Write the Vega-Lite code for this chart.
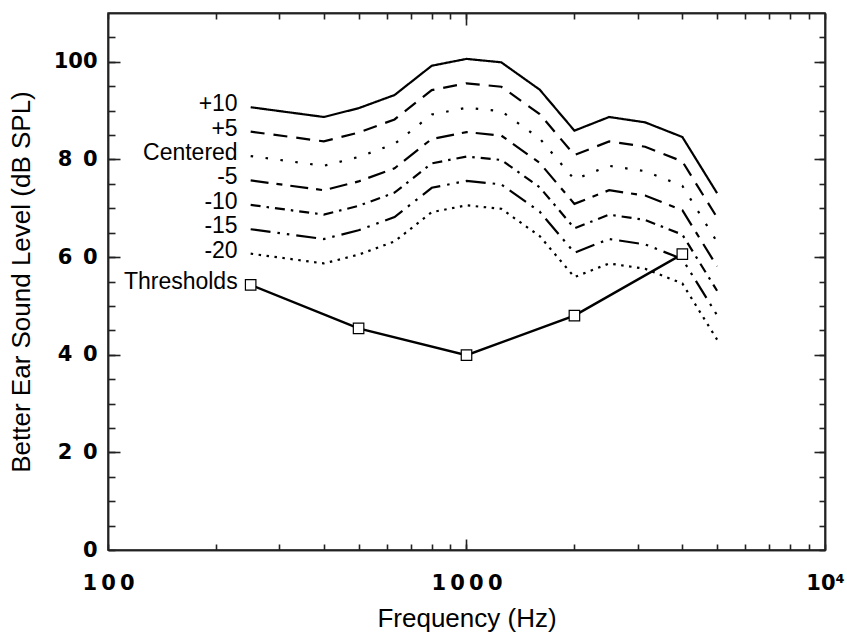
{
  "$schema": "https://vega.github.io/schema/vega-lite/v6.json",
  "width": 717,
  "height": 537,
  "autosize": "none",
  "padding": {"left": 108, "top": 13, "right": 22, "bottom": 82},
  "config": {
    "view": {"stroke": "#222", "strokeWidth": 1.5},
    "axis": {"grid": false, "labelColor": "#000", "titleColor": "#000"}
  },
  "data": {
    "values": [
      {"s": "+10", "f": 250, "v": 90.7}, {"s": "+10", "f": 400, "v": 88.7}, {"s": "+10", "f": 500, "v": 90.5}, {"s": "+10", "f": 630, "v": 93.2}, {"s": "+10", "f": 800, "v": 99.2}, {"s": "+10", "f": 1000, "v": 100.6}, {"s": "+10", "f": 1250, "v": 99.9}, {"s": "+10", "f": 1600, "v": 94.3}, {"s": "+10", "f": 2000, "v": 85.9}, {"s": "+10", "f": 2500, "v": 88.7}, {"s": "+10", "f": 3150, "v": 87.6}, {"s": "+10", "f": 4000, "v": 84.6}, {"s": "+10", "f": 5000, "v": 73.1},
      {"s": "+5", "f": 250, "v": 85.7}, {"s": "+5", "f": 400, "v": 83.7}, {"s": "+5", "f": 500, "v": 85.5}, {"s": "+5", "f": 630, "v": 88.2}, {"s": "+5", "f": 800, "v": 94.2}, {"s": "+5", "f": 1000, "v": 95.6}, {"s": "+5", "f": 1250, "v": 94.9}, {"s": "+5", "f": 1600, "v": 89.3}, {"s": "+5", "f": 2000, "v": 80.9}, {"s": "+5", "f": 2500, "v": 83.7}, {"s": "+5", "f": 3150, "v": 82.6}, {"s": "+5", "f": 4000, "v": 79.6}, {"s": "+5", "f": 5000, "v": 68.1},
      {"s": "Centered", "f": 250, "v": 80.7}, {"s": "Centered", "f": 400, "v": 78.7}, {"s": "Centered", "f": 500, "v": 80.5}, {"s": "Centered", "f": 630, "v": 83.2}, {"s": "Centered", "f": 800, "v": 89.2}, {"s": "Centered", "f": 1000, "v": 90.6}, {"s": "Centered", "f": 1250, "v": 89.9}, {"s": "Centered", "f": 1600, "v": 84.3}, {"s": "Centered", "f": 2000, "v": 75.9}, {"s": "Centered", "f": 2500, "v": 78.7}, {"s": "Centered", "f": 3150, "v": 77.6}, {"s": "Centered", "f": 4000, "v": 74.6}, {"s": "Centered", "f": 5000, "v": 63.1},
      {"s": "-5", "f": 250, "v": 75.7}, {"s": "-5", "f": 400, "v": 73.7}, {"s": "-5", "f": 500, "v": 75.5}, {"s": "-5", "f": 630, "v": 78.2}, {"s": "-5", "f": 800, "v": 84.2}, {"s": "-5", "f": 1000, "v": 85.6}, {"s": "-5", "f": 1250, "v": 84.9}, {"s": "-5", "f": 1600, "v": 79.3}, {"s": "-5", "f": 2000, "v": 70.9}, {"s": "-5", "f": 2500, "v": 73.7}, {"s": "-5", "f": 3150, "v": 72.6}, {"s": "-5", "f": 4000, "v": 69.6}, {"s": "-5", "f": 5000, "v": 58.1},
      {"s": "-10", "f": 250, "v": 70.7}, {"s": "-10", "f": 400, "v": 68.7}, {"s": "-10", "f": 500, "v": 70.5}, {"s": "-10", "f": 630, "v": 73.2}, {"s": "-10", "f": 800, "v": 79.2}, {"s": "-10", "f": 1000, "v": 80.6}, {"s": "-10", "f": 1250, "v": 79.9}, {"s": "-10", "f": 1600, "v": 74.3}, {"s": "-10", "f": 2000, "v": 65.9}, {"s": "-10", "f": 2500, "v": 68.7}, {"s": "-10", "f": 3150, "v": 67.6}, {"s": "-10", "f": 4000, "v": 64.6}, {"s": "-10", "f": 5000, "v": 53.1},
      {"s": "-15", "f": 250, "v": 65.7}, {"s": "-15", "f": 400, "v": 63.7}, {"s": "-15", "f": 500, "v": 65.5}, {"s": "-15", "f": 630, "v": 68.2}, {"s": "-15", "f": 800, "v": 74.2}, {"s": "-15", "f": 1000, "v": 75.6}, {"s": "-15", "f": 1250, "v": 74.9}, {"s": "-15", "f": 1600, "v": 69.3}, {"s": "-15", "f": 2000, "v": 60.9}, {"s": "-15", "f": 2500, "v": 63.7}, {"s": "-15", "f": 3150, "v": 62.6}, {"s": "-15", "f": 4000, "v": 59.6}, {"s": "-15", "f": 5000, "v": 48.1},
      {"s": "-20", "f": 250, "v": 60.7}, {"s": "-20", "f": 400, "v": 58.7}, {"s": "-20", "f": 500, "v": 60.5}, {"s": "-20", "f": 630, "v": 63.2}, {"s": "-20", "f": 800, "v": 69.2}, {"s": "-20", "f": 1000, "v": 70.6}, {"s": "-20", "f": 1250, "v": 69.9}, {"s": "-20", "f": 1600, "v": 64.3}, {"s": "-20", "f": 2000, "v": 55.9}, {"s": "-20", "f": 2500, "v": 58.7}, {"s": "-20", "f": 3150, "v": 57.6}, {"s": "-20", "f": 4000, "v": 54.6}, {"s": "-20", "f": 5000, "v": 43.1},
      {"s": "Thresholds", "f": 250, "v": 54.3}, {"s": "Thresholds", "f": 500, "v": 45.4}, {"s": "Thresholds", "f": 1000, "v": 39.9}, {"s": "Thresholds", "f": 2000, "v": 48.0}, {"s": "Thresholds", "f": 4000, "v": 60.6}
    ]
  },
  "layer": [
    {
      "transform": [{"filter": "datum.s != 'Thresholds'"}],
      "mark": {"type": "line", "strokeWidth": 2.2, "color": "black"},
      "encoding": {
        "x": {
          "field": "f", "type": "quantitative",
          "scale": {"type": "log", "domain": [100, 10000], "nice": false},
          "axis": {
            "orient": "bottom", "domainColor": "#222", "domainWidth": 1.5, "tickColor": "#222", "tickWidth": 1.6, "tickSize": -6,
            "values": [100, 200, 300, 400, 500, 600, 700, 800, 900, 1000, 2000, 3000, 4000, 5000, 6000, 7000, 8000, 9000, 10000],
            "labelExpr": "datum.value == 100 ? '1\u20090\u20090' : datum.value == 1000 ? '1\u20090\u20090\u20090' : datum.value == 10000 ? '10\u2074' : ''",
            "labelFont": "DejaVu Sans", "labelFontWeight": "bold", "labelFontSize": 21,
            "labelPadding": 28, "labelFlush": false, "labelOverlap": false, "labelBaseline": "top",
            "title": "Frequency (Hz)", "titleFont": "Liberation Sans", "titleFontSize": 26, "titleFontWeight": "normal", "titlePadding": 12
          }
        },
        "y": {
          "field": "v", "type": "quantitative",
          "scale": {"domain": [0, 110], "nice": false, "zero": true},
          "axis": {
            "orient": "left", "domainColor": "#222", "domainWidth": 1.5, "tickColor": "#222", "tickWidth": 1.6, "tickSize": -7,
            "values": [0, 5, 10, 15, 20, 25, 30, 35, 40, 45, 50, 55, 60, 65, 70, 75, 80, 85, 90, 95, 100, 105],
            "labelExpr": "datum.value == 0 ? '0\u2002' : datum.value == 20 ? '2\u20020' : datum.value == 40 ? '4\u20020' : datum.value == 60 ? '6\u20020' : datum.value == 80 ? '8\u20020' : datum.value == 100 ? '100' : ''",
            "labelFont": "DejaVu Sans", "labelFontWeight": "bold", "labelFontSize": 21,
            "labelPadding": 18, "labelOverlap": false, "labelFlush": false, "labelBaseline": "middle",
            "title": "Better Ear Sound Level (dB SPL)", "titleFont": "Liberation Sans", "titleFontSize": 26, "titleFontWeight": "normal", "titlePadding": 19
          }
        },
        "strokeDash": {
          "field": "s", "type": "nominal",
          "scale": {
            "domain": ["+10", "+5", "Centered", "-5", "-10", "-15", "-20"],
            "range": [[1, 0], [14, 9], [2.5, 12.5], [18, 8, 6, 8], [10, 6, 2.5, 6], [20, 7, 2.5, 7, 2.5, 7], [2.5, 5.5]]
          },
          "legend": null
        }
      }
    },
    {
      "transform": [{"filter": "datum.f == 250"}],
      "mark": {"type": "text", "align": "right", "baseline": "middle", "dx": -13, "dy": -3, "font": "Liberation Sans", "fontSize": 23, "color": "black"},
      "encoding": {
        "x": {"field": "f", "type": "quantitative", "axis": {"orient": "bottom", "domainColor": "#222", "domainWidth": 1.5, "tickColor": "#222", "tickWidth": 1.6, "tickSize": -11, "values": [1000], "labels": false, "title": null}},
        "y": {"field": "v", "type": "quantitative", "axis": {"orient": "left", "domainColor": "#222", "domainWidth": 1.5, "tickColor": "#222", "tickWidth": 1.6, "tickSize": -12, "values": [20, 40, 60, 80, 100], "labels": false, "title": null}},
        "text": {"field": "s"}
      }
    },
    {
      "transform": [{"filter": "datum.s == 'Thresholds'"}],
      "mark": {"type": "line", "strokeWidth": 2.5, "color": "black"},
      "encoding": {
        "x": {"field": "f", "type": "quantitative", "axis": {"orient": "top", "domainColor": "#222", "domainWidth": 1.5, "tickColor": "#222", "tickWidth": 1.6, "tickSize": -6, "values": [100, 200, 300, 400, 500, 600, 700, 800, 900, 1000, 2000, 3000, 4000, 5000, 6000, 7000, 8000, 9000, 10000], "labels": false, "title": null}},
        "y": {"field": "v", "type": "quantitative", "axis": {"orient": "right", "domainColor": "#222", "domainWidth": 1.5, "tickColor": "#222", "tickWidth": 1.6, "tickSize": -6, "values": [0, 5, 10, 15, 20, 25, 30, 35, 40, 45, 50, 55, 60, 65, 70, 75, 80, 85, 90, 95, 100, 105], "labels": false, "title": null}}
      }
    },
    {
      "transform": [{"filter": "datum.s == 'Thresholds'"}],
      "mark": {"type": "point", "shape": "square", "size": 110, "filled": true, "fill": "white", "stroke": "black", "strokeWidth": 1.2, "opacity": 1},
      "encoding": {
        "x": {"field": "f", "type": "quantitative", "axis": {"orient": "top", "domainColor": "#222", "domainWidth": 1.5, "tickColor": "#222", "tickWidth": 1.6, "tickSize": -12, "values": [1000], "labels": false, "title": null}},
        "y": {"field": "v", "type": "quantitative", "axis": {"orient": "right", "domainColor": "#222", "domainWidth": 1.5, "tickColor": "#222", "tickWidth": 1.6, "tickSize": -11, "values": [20, 40, 60, 80, 100], "labels": false, "title": null}}
      }
    }
  ],
  "resolve": {"axis": {"x": "independent", "y": "independent"}}
}
